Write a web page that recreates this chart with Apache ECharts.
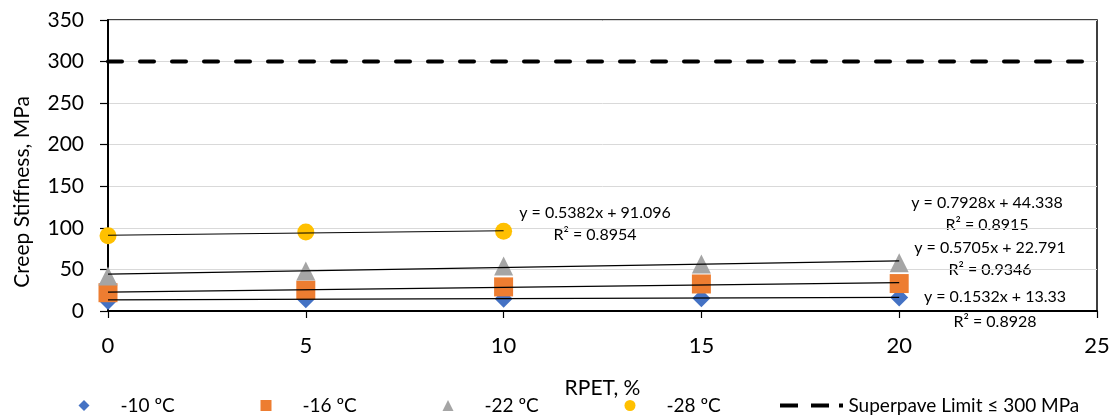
<!DOCTYPE html>
<html>
<head>
<meta charset="utf-8">
<script src="https://cdn.jsdelivr.net/npm/echarts@6/dist/echarts.min.js"></script>
<style>
  html, body { margin: 0; padding: 0; background: #fff; }
  #chart { width: 1115px; height: 418px; }
</style>
</head>
<body>
<div id="chart"></div>
<script>
// data
var rpet = [0, 5, 10, 15, 20];
var rpet28 = [0, 5, 10];
var s10 = [12, 14.2, 14.8, 15.2, 16.2];
var s16 = [22, 25, 29, 32.5, 33];
var s22 = [42, 48, 54, 56.5, 58];
var s28 = [90.6, 94.9, 96.0];
// trendline ends (x start, x end) and values there
var trendX = [0, 20];
var trendX28 = [0, 10];
var trend10 = [13.3, 16.4];
var trend16 = [22.8, 34.2];
var trend22 = [44.3, 60.2];
var trend28 = [91.1, 96.5];
var limitX = [0, 25];
var limitY = [300, 300];
var names = ['-10 ºC', '-16 ºC', '-22 ºC', '-28 ºC', 'Superpave Limit ≤ 300 MPa'];
var equations = [
    ['y = 0.1532x + 13.33', 'R² = 0.8928'],
    ['y = 0.5705x + 22.791', 'R² = 0.9346'],
    ['y = 0.7928x + 44.338', 'R² = 0.8915'],
    ['y = 0.5382x + 91.096', 'R² = 0.8954']
];

function pairs(xs, ys) {
    return xs.map(function (x, i) { return [x, ys[i]]; });
}

var font = 'Lato, "Open Sans", sans-serif';
var chart = echarts.init(document.getElementById('chart'));

function scatter(name, data, symbol, size, color) {
    return {
        name: name, type: 'scatter', data: data, symbol: symbol, symbolSize: size,
        itemStyle: { color: color, opacity: 1 }, z: 2
    };
}
function trend(data) {
    return {
        type: 'line', data: data, symbol: 'none', silent: true, z: 3,
        lineStyle: { color: '#000', width: 1.2 }
    };
}
// icon centre x, text gap after icon
function legendAt(cx, name, w, h, gap) {
    return {
        data: [name], left: cx - w / 2, top: 391, itemWidth: w, itemHeight: h, itemGap: 0,
        textStyle: { fontFamily: font, fontSize: 19, color: '#000', padding: [0, 0, 0, gap] }
    };
}
// equation text: centre x, centre y of each line
var eqPos = [[995, 297, 322], [990, 248, 270], [987, 203, 225], [595, 213, 235]];
var graphics = [];
equations.forEach(function (eq, i) {
    eq.forEach(function (line, j) {
        graphics.push({
            type: 'text', x: eqPos[i][0], y: eqPos[i][j + 1],
            style: {
                text: line, fontFamily: font, fontSize: 16, fill: '#000',
                align: 'center', verticalAlign: 'middle'
            }
        });
    });
});
graphics.push({
    type: 'text', x: 22, y: 192, rotation: Math.PI / 2,
    style: {
        text: 'Creep Stiffness, MPa', fontFamily: font, fontSize: 21, fill: '#000',
        align: 'center', verticalAlign: 'middle'
    }
});

var limitLegend = legendAt(807, names[4], 64, 4, 0);
limitLegend.data = [{
    name: names[4],
    icon: 'path://M0,0H18V4H0Z M31,0H49V4H31Z M59,0H63V4H59Z',
    itemStyle: { color: '#000' }
}];

chart.setOption({
    animation: false,
    grid: { left: 108, right: 18, top: 20, bottom: 107, show: true, borderColor: '#000', borderWidth: 1.5 },
    xAxis: {
        type: 'value', min: 0, max: 25, interval: 5,
        name: 'RPET, %', nameLocation: 'middle', nameGap: 67,
        nameTextStyle: { fontFamily: font, fontSize: 21, color: '#000' },
        axisLine: { lineStyle: { color: '#000', width: 2 } },
        axisTick: { show: true, length: 7, lineStyle: { color: '#000', width: 1.2 } },
        axisLabel: { fontFamily: font, fontSize: 22, color: '#000', margin: 24 },
        splitLine: { show: false }
    },
    yAxis: {
        type: 'value', min: 0, max: 350, interval: 50,
        axisLine: { show: true, lineStyle: { color: '#000', width: 2 } },
        axisTick: { show: true, length: 8, lineStyle: { color: '#000', width: 1.2 } },
        axisLabel: { fontFamily: font, fontSize: 21, color: '#000', margin: 24 },
        splitLine: { lineStyle: { color: '#d9d9d9', width: 1 } }
    },
    legend: [
        legendAt(79, names[0], 11, 11, 26),
        legendAt(261, names[1], 11, 11, 26),
        legendAt(443, names[2], 11, 11, 26),
        legendAt(625, names[3], 11, 11, 26),
        limitLegend
    ],
    graphic: graphics,
    series: [
        scatter(names[0], pairs(rpet, s10), 'diamond', 18, '#4472c4'),
        scatter(names[1], pairs(rpet, s16), 'rect', 19, '#ed7d31'),
        scatter(names[2], pairs(rpet, s22), 'triangle', 19, '#a5a5a5'),
        scatter(names[3], pairs(rpet28, s28), 'circle', 17, '#ffc000'),
        trend(pairs(trendX, trend10)),
        trend(pairs(trendX, trend16)),
        trend(pairs(trendX, trend22)),
        trend(pairs(trendX28, trend28)),
        {
            name: names[4], type: 'line', data: pairs(limitX, limitY), symbol: 'none', z: 4,
            itemStyle: { color: '#000' },
            lineStyle: { color: '#000', width: 4, type: [14, 18], cap: 'round' }
        }
    ]
});
</script>
</body>
</html>
